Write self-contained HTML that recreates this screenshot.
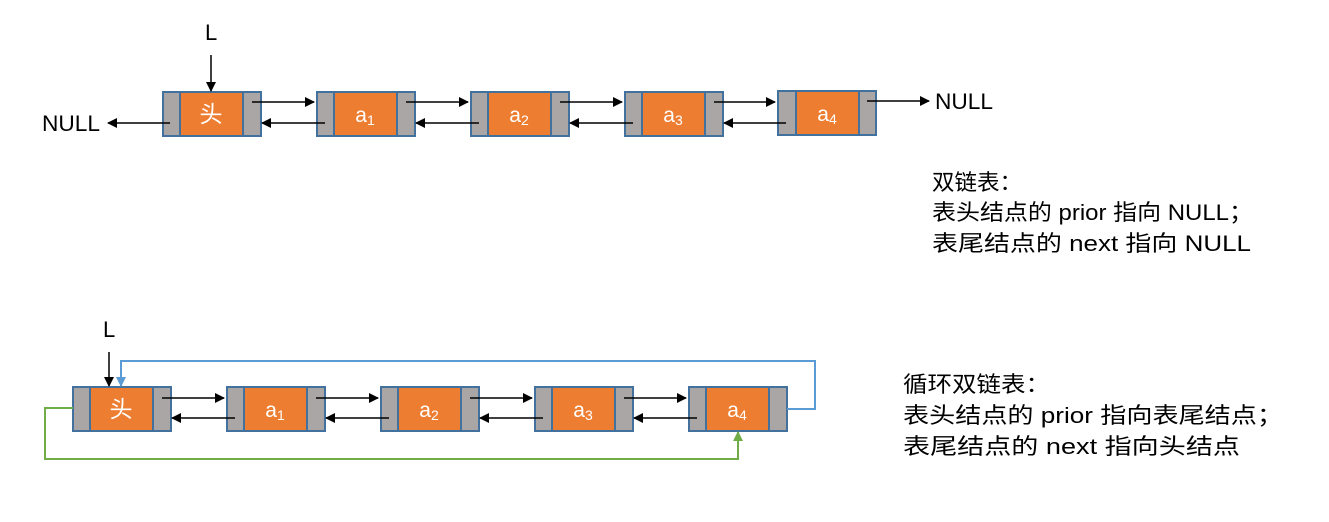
<!DOCTYPE html>
<html><head><meta charset="utf-8"><style>
body{margin:0;background:#fff}
svg{display:block}
text{font-family:"Liberation Sans","Noto Sans CJK SC",sans-serif}
</style></head><body>
<svg width="1329" height="522" viewBox="0 0 1329 522" xmlns="http://www.w3.org/2000/svg">
<defs>
<marker id="ab" markerWidth="10" markerHeight="10" refX="9" refY="5" orient="auto" markerUnits="userSpaceOnUse"><path d="M0,0 L10,5 L0,10 z" fill="#000"/></marker>
<marker id="abl" markerWidth="10" markerHeight="10" refX="9" refY="5" orient="auto" markerUnits="userSpaceOnUse"><path d="M0,0 L10,5 L0,10 z" fill="#5b9bd5"/></marker>
<marker id="ag" markerWidth="10" markerHeight="10" refX="9" refY="5" orient="auto" markerUnits="userSpaceOnUse"><path d="M0,0 L10,5 L0,10 z" fill="#70ad47"/></marker>
</defs>
<g stroke="#41719c" stroke-width="2">
<rect x="163" y="92" width="17" height="44" fill="#aaa6a6"/><rect x="180" y="92" width="63" height="44" fill="#ed7d31"/><rect x="243" y="92" width="18" height="44" fill="#aaa6a6"/>
<rect x="317" y="92" width="17" height="44" fill="#aaa6a6"/><rect x="334" y="92" width="63" height="44" fill="#ed7d31"/><rect x="397" y="92" width="18" height="44" fill="#aaa6a6"/>
<rect x="471" y="92" width="17" height="44" fill="#aaa6a6"/><rect x="488" y="92" width="63" height="44" fill="#ed7d31"/><rect x="551" y="92" width="18" height="44" fill="#aaa6a6"/>
<rect x="625" y="92" width="17" height="44" fill="#aaa6a6"/><rect x="642" y="92" width="63" height="44" fill="#ed7d31"/><rect x="705" y="92" width="18" height="44" fill="#aaa6a6"/>
<rect x="778" y="91" width="18" height="44" fill="#aaa6a6"/><rect x="796" y="91" width="63" height="44" fill="#ed7d31"/><rect x="859" y="91" width="17" height="44" fill="#aaa6a6"/>

<rect x="73" y="387" width="17" height="44" fill="#aaa6a6"/><rect x="90" y="387" width="63" height="44" fill="#ed7d31"/><rect x="153" y="387" width="18" height="44" fill="#aaa6a6"/>
<rect x="227" y="387" width="17" height="44" fill="#aaa6a6"/><rect x="244" y="387" width="63" height="44" fill="#ed7d31"/><rect x="307" y="387" width="18" height="44" fill="#aaa6a6"/>
<rect x="381" y="387" width="17" height="44" fill="#aaa6a6"/><rect x="398" y="387" width="63" height="44" fill="#ed7d31"/><rect x="461" y="387" width="18" height="44" fill="#aaa6a6"/>
<rect x="535" y="387" width="17" height="44" fill="#aaa6a6"/><rect x="552" y="387" width="63" height="44" fill="#ed7d31"/><rect x="615" y="387" width="18" height="44" fill="#aaa6a6"/>
<rect x="689" y="387" width="17" height="44" fill="#aaa6a6"/><rect x="706" y="387" width="63" height="44" fill="#ed7d31"/><rect x="769" y="387" width="18" height="44" fill="#aaa6a6"/>
</g>
<g fill="#fff" font-size="21" text-anchor="middle">
<text x="211" y="122" font-size="23">头</text>
<text x="365" y="122">a<tspan font-size="14" dy="3">1</tspan></text>
<text x="519" y="122">a<tspan font-size="14" dy="3">2</tspan></text>
<text x="673" y="122">a<tspan font-size="14" dy="3">3</tspan></text>
<text x="827" y="121">a<tspan font-size="14" dy="3">4</tspan></text>
<text x="121" y="417" font-size="23">头</text>
<text x="275" y="417">a<tspan font-size="14" dy="3">1</tspan></text>
<text x="429" y="417">a<tspan font-size="14" dy="3">2</tspan></text>
<text x="583" y="417">a<tspan font-size="14" dy="3">3</tspan></text>
<text x="737" y="417">a<tspan font-size="14" dy="3">4</tspan></text>
</g>
<g stroke="#000" stroke-width="1.5" marker-end="url(#ab)">
<line x1="211" y1="55" x2="211" y2="91"/>
<line x1="170" y1="123" x2="108" y2="123"/>
<line x1="252" y1="102" x2="314" y2="102"/><line x1="325" y1="123" x2="262" y2="123"/>
<line x1="406" y1="102" x2="468" y2="102"/><line x1="479" y1="123" x2="416" y2="123"/>
<line x1="560" y1="102" x2="622" y2="102"/><line x1="633" y1="123" x2="570" y2="123"/>
<line x1="714" y1="102" x2="775" y2="102"/><line x1="786" y1="123" x2="724" y2="123"/>
<line x1="867" y1="101" x2="929" y2="101"/>
<line x1="109" y1="352" x2="109" y2="386"/>
<line x1="162" y1="398" x2="224" y2="398"/><line x1="235" y1="418" x2="172" y2="418"/>
<line x1="316" y1="398" x2="378" y2="398"/><line x1="389" y1="418" x2="326" y2="418"/>
<line x1="470" y1="398" x2="532" y2="398"/><line x1="543" y1="418" x2="480" y2="418"/>
<line x1="624" y1="398" x2="686" y2="398"/><line x1="697" y1="418" x2="634" y2="418"/>
</g>
<polyline points="787,409 815,409 815,361 121,361 121,386" fill="none" stroke="#5b9bd5" stroke-width="2" marker-end="url(#abl)"/>
<polyline points="73,408 45,408 45,459 738,459 738,432" fill="none" stroke="#70ad47" stroke-width="2" marker-end="url(#ag)"/>
<g fill="#000" font-size="22">
<text x="205" y="40">L</text>
<text x="42" y="131" textLength="58" lengthAdjust="spacingAndGlyphs">NULL</text>
<text x="935" y="109" textLength="58" lengthAdjust="spacingAndGlyphs">NULL</text>
<text x="103" y="337">L</text>
<text x="932" y="190" textLength="90" lengthAdjust="spacingAndGlyphs">双链表：</text>
<text x="932" y="220" textLength="321" lengthAdjust="spacingAndGlyphs">表头结点的 prior 指向 NULL；</text>
<text x="932" y="251" textLength="319" lengthAdjust="spacingAndGlyphs">表尾结点的 next 指向 NULL</text>
<text x="903" y="392" textLength="147" lengthAdjust="spacingAndGlyphs">循环双链表：</text>
<text x="903" y="423" textLength="380" lengthAdjust="spacingAndGlyphs">表头结点的 prior 指向表尾结点；</text>
<text x="903" y="454" textLength="337" lengthAdjust="spacingAndGlyphs">表尾结点的 next 指向头结点</text>
</g>
</svg>
</body></html>
